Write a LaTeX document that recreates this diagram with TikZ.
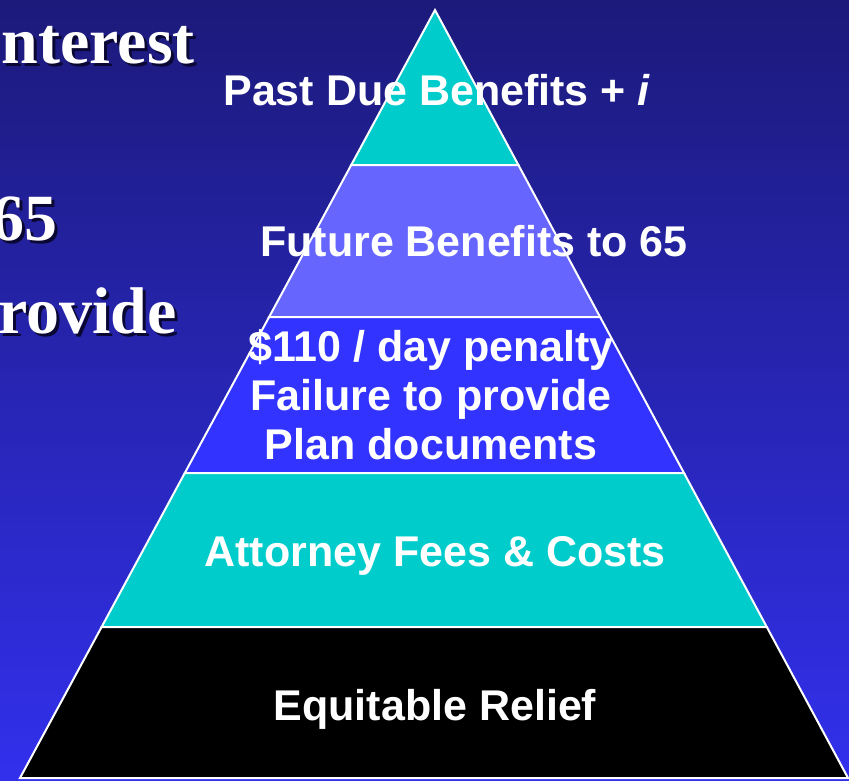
\documentclass[tikz,border=0pt]{standalone}
\usepackage{fontspec}
\setmainfont{Liberation Serif}
\newfontfamily\arialfont{Liberation Sans}
\definecolor{slidetop}{RGB}{28,26,122}
\definecolor{slidebottom}{RGB}{50,48,236}
\definecolor{tealband}{RGB}{0,204,204}
\definecolor{lilacband}{RGB}{102,102,255}
\definecolor{blueband}{RGB}{51,51,255}
\definecolor{shadowink}{RGB}{10,8,50}

\begin{document}
\begin{tikzpicture}[x=1pt,y=-1pt]
    \tikzset{
        band/.style={draw=white,line width=2pt,line join=miter},
        label/.style={
            font=\arialfont\bfseries\fontsize{43}{49}\selectfont,
            text=white,
            inner sep=0pt,
            anchor=base,
            align=center
        },
        side/.style={
            font=\bfseries\fontsize{66}{72}\selectfont,
            inner sep=0pt,
            anchor=base east
        }
    }

    % slide background
    \shade[top color=slidetop,bottom color=slidebottom]
        (0,0) rectangle (849,780);
    \useasboundingbox (0,0) rectangle (849,780);

    % bullet text running off the left edge
    \node[side,text=shadowink] at (198,66) {nterest};
    \node[side,text=white] (interest) at (195,63) {nterest};
    \node[side,text=shadowink] at (61,243) {65};
    \node[side,text=white] (sixtyfive) at (58,240) {65};
    \node[side,text=shadowink] at (180,336) {rovide};
    \node[side,text=white] (provide) at (177,333) {rovide};

    % pyramid bands, top to bottom
    \draw[band,fill=tealband] (435,10) -- (518.4,165) -- (351.2,165) -- cycle;
    \draw[band,fill=lilacband] (351.2,165) -- (518.4,165) -- (600.1,317)
        -- (269.1,317) -- cycle;
    \draw[band,fill=blueband] (269.1,317) -- (600.1,317) -- (684.0,473)
        -- (184.8,473) -- cycle;
    \draw[band,fill=tealband] (184.8,473) -- (684.0,473) -- (766.8,627)
        -- (101.6,627) -- cycle;
    \draw[band,fill=black] (101.6,627) -- (766.8,627) -- (848,778)
        -- (20,778) -- cycle;

    \node[label] (pastdue) at (437,105) {Past Due Benefits + \textit{i}};
    \node[label] (future) at (474,256) {Future Benefits to 65};
    \node[label,anchor=north] (penalty) at (431,329)
        {\$110 / day penalty\\Failure to provide\\Plan documents};
    \node[label] (fees) at (435,566) {Attorney Fees \& Costs};
    \node[label] (relief) at (435,720) {Equitable Relief};
\end{tikzpicture}
\end{document}
